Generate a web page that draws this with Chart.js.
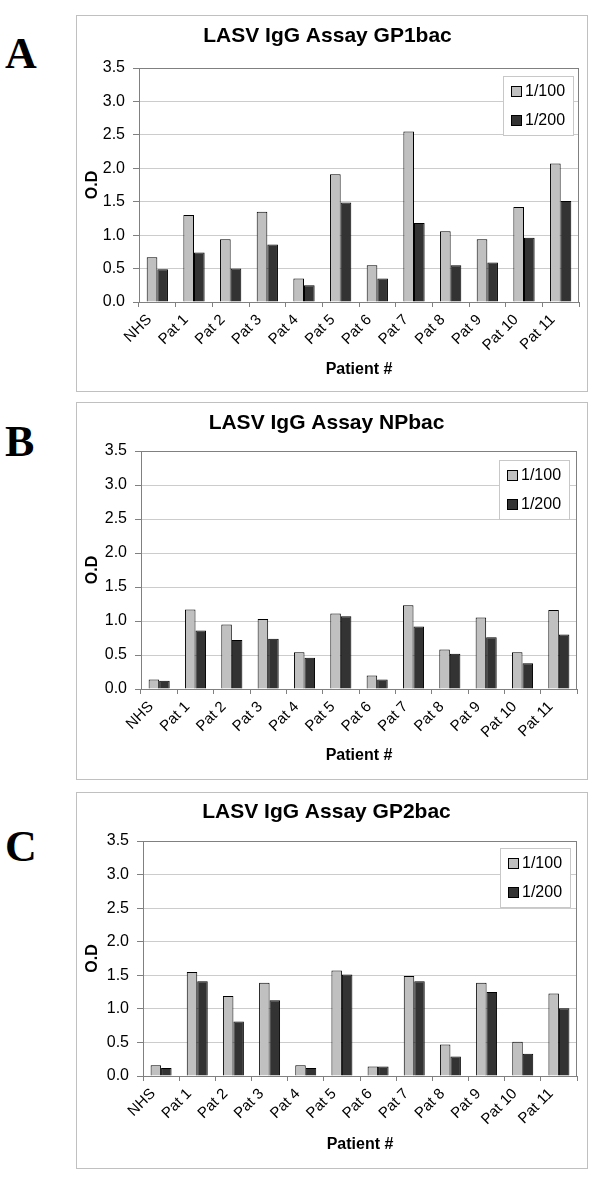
<!DOCTYPE html>
<html><head><meta charset="utf-8">
<script src="https://cdn.jsdelivr.net/npm/chart.js@4/dist/chart.umd.min.js"></script>
<style>
body{margin:0;background:#fff;width:600px;height:1179px;position:relative;overflow:hidden}
.letter{position:absolute;font-family:"Liberation Serif","Times New Roman",serif;font-weight:bold;font-size:44px;line-height:1;color:#000}
.panel{position:absolute;left:76px;width:512px}
canvas{display:block}
</style></head><body>
<div class="letter" style="left:5px;top:32px">A</div>
<div class="letter" style="left:5px;top:420px">B</div>
<div class="letter" style="left:5px;top:825px">C</div>
<div class="panel" style="top:15px;height:377px"><canvas id="cA" width="512" height="377"></canvas></div>
<div class="panel" style="top:402px;height:378px"><canvas id="cB" width="512" height="378"></canvas></div>
<div class="panel" style="top:792px;height:377px"><canvas id="cC" width="512" height="377"></canvas></div>
<script>
const categories = ["NHS","Pat 1","Pat 2","Pat 3","Pat 4","Pat 5","Pat 6","Pat 7","Pat 8","Pat 9","Pat 10","Pat 11"];
const seriesLabels = ["1/100","1/200"];
const yTicks = [0.0,0.5,1.0,1.5,2.0,2.5,3.0,3.5];

const gp1_100 = [0.67,1.30,0.94,1.35,0.35,1.91,0.55,2.55,1.06,0.94,1.42,2.07];
const gp1_200 = [0.49,0.74,0.50,0.86,0.25,1.49,0.35,1.18,0.55,0.59,0.96,1.51];

const np_100 = [0.14,1.17,0.95,1.03,0.54,1.11,0.20,1.23,0.58,1.05,0.54,1.16];
const np_200 = [0.12,0.86,0.72,0.74,0.46,1.07,0.14,0.92,0.52,0.76,0.38,0.80];

const gp2_100 = [0.16,1.55,1.19,1.39,0.16,1.57,0.14,1.49,0.47,1.39,0.51,1.23];
const gp2_200 = [0.12,1.41,0.81,1.13,0.12,1.51,0.14,1.41,0.29,1.25,0.33,1.01];

const FONT = '"Liberation Sans", Arial, sans-serif';
const COLORS = ['#c0c0c0','#333333'];

const framePlugin = {
  id:'frame',
  beforeDraw(chart){
    const ctx = chart.ctx;
    ctx.save();
    ctx.fillStyle='#fff';
    ctx.fillRect(0,0,chart.width,chart.height);
    ctx.strokeStyle='#c0c0c0';
    ctx.lineWidth=1;
    ctx.strokeRect(0.5,0.5,chart.width-1,chart.height-1);
    ctx.restore();
  },
  afterDraw(chart){
    const ctx = chart.ctx, a = chart.chartArea;
    ctx.save();
    ctx.strokeStyle='#808080';
    ctx.lineWidth=1;
    ctx.strokeRect(Math.round(a.left)+0.5, Math.round(a.top)+0.5, Math.round(a.right-a.left)-1, Math.round(a.bottom-a.top));
    // legend
    const o = chart.options.plugins.boxLegend;
    const w=70,h=59;
    const x = Math.round(a.right - o.right - w), y = Math.round(a.top + o.top);
    ctx.fillStyle='#fff';
    ctx.fillRect(x,y,w,h);
    ctx.strokeStyle='#c8c8c8';
    ctx.strokeRect(x+0.5,y+0.5,w,h);
    ctx.font = '16px '+FONT;
    ctx.textBaseline='middle';
    chart.data.datasets.forEach((ds,i)=>{
      const cy = y + 15 + i*29;
      ctx.fillStyle = ds.backgroundColor;
      ctx.fillRect(x+8, cy-5, 10, 10);
      ctx.strokeStyle='#000';
      ctx.strokeRect(x+8.5, cy-4.5, 10, 10);
      ctx.fillStyle='#000';
      ctx.fillText(ds.label, x+22, cy+1);
    });
    ctx.restore();
  }
};

function makeChart(id, title, d1, d2, g){
  new Chart(document.getElementById(id), {
    type:'bar',
    data:{
      labels: categories,
      datasets:[
        {label:seriesLabels[0], data:d1, backgroundColor:COLORS[0], borderColor:'#000', borderWidth:1, categoryPercentage:0.58, barPercentage:1.0},
        {label:seriesLabels[1], data:d2, backgroundColor:COLORS[1], borderColor:'#000', borderWidth:1, categoryPercentage:0.58, barPercentage:1.0}
      ]
    },
    options:{
      responsive:false,
      animation:false,
      devicePixelRatio:1,
      layout:{padding:{left:0,right:g.padRight,top:0,bottom:0}},
      plugins:{
        legend:{display:false},
        tooltip:{enabled:false},
        title:{display:true, text:title, color:'#000', font:{family:FONT, size:21, weight:'bold', lineHeight:1.2}, padding:{top:g.titleTop, bottom:g.titleBottom}},
        boxLegend:{right:g.legRight, top:g.legTop}
      },
      scales:{
        x:{
          grid:{display:true, drawOnChartArea:false, drawTicks:true, tickLength:5, tickColor:'#808080', offset:true},
          border:{display:true, color:'#808080'},
          ticks:{color:'#000', font:{family:FONT, size:15}, minRotation:45, maxRotation:45, padding:4, labelOffset:-8, autoSkip:false},
          title:{display:true, text:'Patient #', color:'#000', font:{family:FONT, size:16, weight:'bold', lineHeight:1.2}, padding:{top:0,bottom:g.xTitleBottom}},
          afterFit(s){ s.height = g.xHeight; }
        },
        y:{
          min:0, max:3.5,
          afterBuildTicks(s){ s.ticks = yTicks.map(v=>({value:v})); },
          grid:{color:'#cccccc', tickColor:'#808080', tickLength:6, drawTicks:true},
          border:{display:true, color:'#808080'},
          ticks:{color:'#000', font:{family:FONT, size:16}, padding:8, callback:(v)=>Number(v).toFixed(1)},
          title:{display:true, text:'O.D', color:'#000', font:{family:FONT, size:16, weight:'bold', lineHeight:1.2}, padding:{top:g.yTitleTop,bottom:0}},
          afterFit(s){ s.width = g.yWidth; }
        }
      }
    },
    plugins:[framePlugin]
  });
}

makeChart('cA','LASV IgG Assay GP1bac', gp1_100, gp1_200,
  {padRight:9, titleTop:8.4, titleBottom:19.4, xHeight:90, xTitleBottom:13, yWidth:63, yTitleTop:7, legRight:6, legTop:8});
makeChart('cB','LASV IgG Assay NPbac', np_100, np_200,
  {padRight:11, titleTop:8.4, titleBottom:15.4, xHeight:91, xTitleBottom:15, yWidth:65, yTitleTop:7, legRight:8, legTop:9});
makeChart('cC','LASV IgG Assay GP2bac', gp2_100, gp2_200,
  {padRight:11, titleTop:7.4, titleBottom:16.4, xHeight:93, xTitleBottom:15, yWidth:67, yTitleTop:7, legRight:7, legTop:7});
</script>
</body></html>
